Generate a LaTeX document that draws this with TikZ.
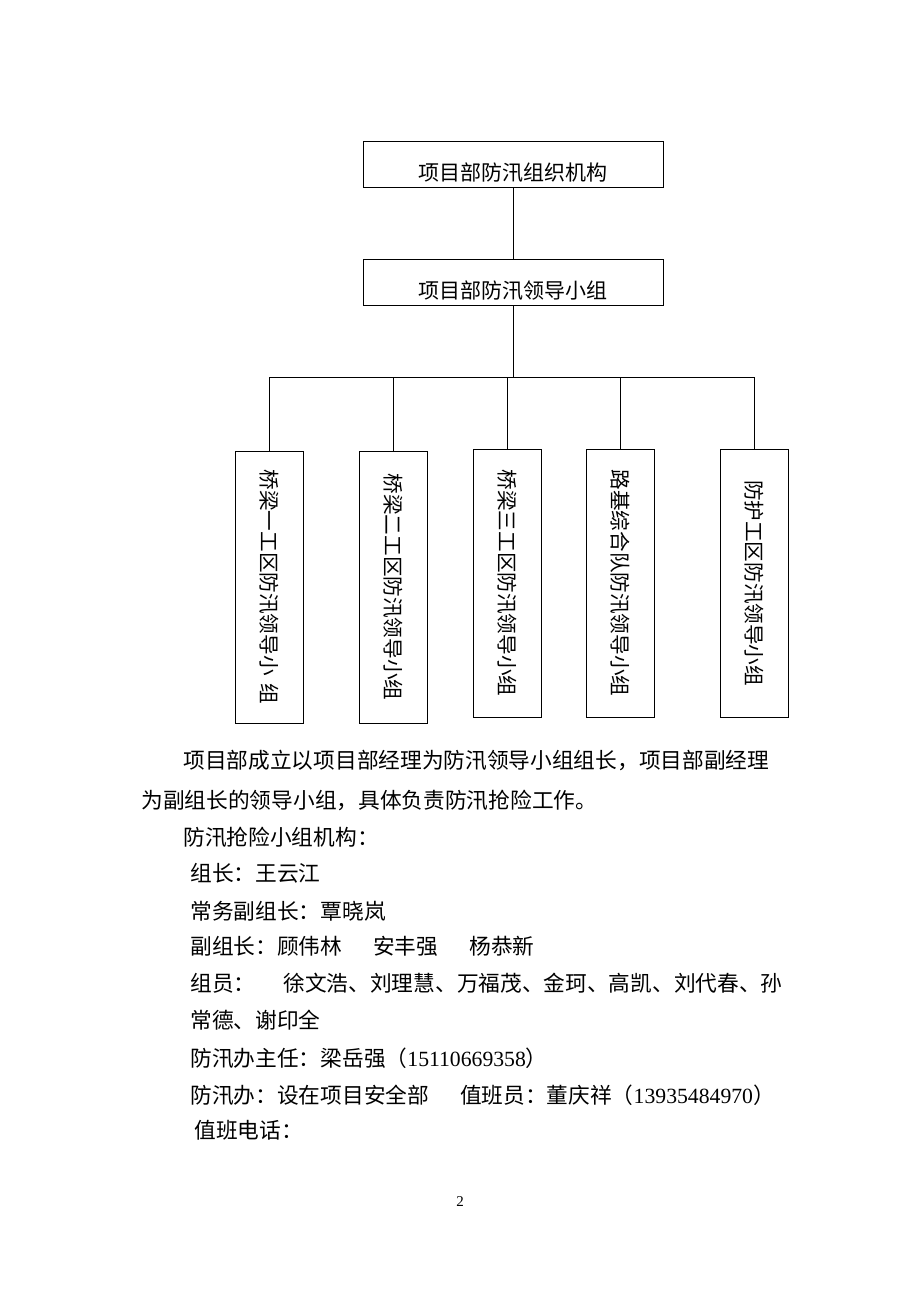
\documentclass[tikz,border=0pt]{standalone}
\usepackage{fontspec}
\setmainfont{Liberation Serif}
\newfontfamily\cjk{Noto Sans CJK SC}
\usetikzlibrary{positioning}

\begin{document}
\begin{tikzpicture}[x=1pt, y=-1pt, line width=0.8pt,
    hbox/.style={draw, minimum width=300pt, minimum height=46pt, inner sep=0pt,
        text height=35pt, text depth=4pt, font=\cjk\fontsize{21}{21}\selectfont},
    vbox/.style={draw, minimum width=68pt, minimum height=272pt, inner sep=0pt,
        font=\cjk\fontsize{20.6}{21}\selectfont},
    para/.style={anchor=west, inner sep=0pt, font=\cjk\fontsize{21.7}{26}\selectfont}]

    \path[fill=white] (0,0) rectangle (920,1302);

    % the two boxes on top
    \node[hbox] (org) at (513,164.5) {项目部防汛组织机构};
    \node[hbox] (lead) at (513,282.5) {项目部防汛领导小组};

    % the five groups
    \node[vbox] (b1) at (269,587) {\rotatebox{-90}{桥梁一工区防汛领导小\hspace{8pt}组}};
    \node[vbox] (b2) at (393,587) {\rotatebox{-90}{桥梁二工区防汛领导小组}};
    \node[vbox, minimum height=268pt] (b3) at (507.5,583) {\rotatebox{-90}{桥梁三工区防汛领导小组}};
    \node[vbox, minimum height=268pt] (b4) at (620.5,583) {\rotatebox{-90}{路基综合队防汛领导小组}};
    \node[vbox, minimum height=268pt] (b5) at (754,583) {\rotatebox{-90}{防护工区防汛领导小组}};

    \coordinate (bus) at (513,377);

    \draw (org) -- (lead);
    \draw (lead) -- (bus);
    \draw (b1.north |- bus) -- (b5.north |- bus);
    \foreach \b in {b1,b2,b3,b4,b5}
        \draw (\b.north |- bus) -- (\b.north);

    % text below the chart
    \node[para] (l1) at (183,760) {项目部成立以项目部经理为防汛领导小组组长，项目部副经理};
    \node[para] (l2) at (141,800) {为副组长的领导小组，具体负责防汛抢险工作。};
    \node[para] (l3) at (183,837) {防汛抢险小组机构：};
    \node[para] (l4) at (190,873) {组长：王云江};
    \node[para] (l5) at (190,911) {常务副组长：覃晓岚};
    \node[para] (l6) at (190,946) {副组长：顾伟林\hspace{31pt}安丰强\hspace{31pt}杨恭新};
    \node[para] (l7) at (190,983) {组员：\hspace{28pt}徐文浩、刘理慧、万福茂、金珂、高凯、刘代春、孙};
    \node[para] (l8) at (190,1020) {常德、谢印全};
    \node[para] (l9) at (190,1058) {防汛办主任：梁岳强（{\rmfamily 15110669358}）};
    \node[para] (l10) at (190,1095) {防汛办：设在项目安全部\hspace{31pt}值班员：董庆祥（{\rmfamily 13935484970}）};
    \node[para] (l11) at (194,1130) {值班电话：};

    \node[font=\fontsize{15}{15}\selectfont] (pg) at (460,1202) {2};

\end{tikzpicture}
\end{document}
